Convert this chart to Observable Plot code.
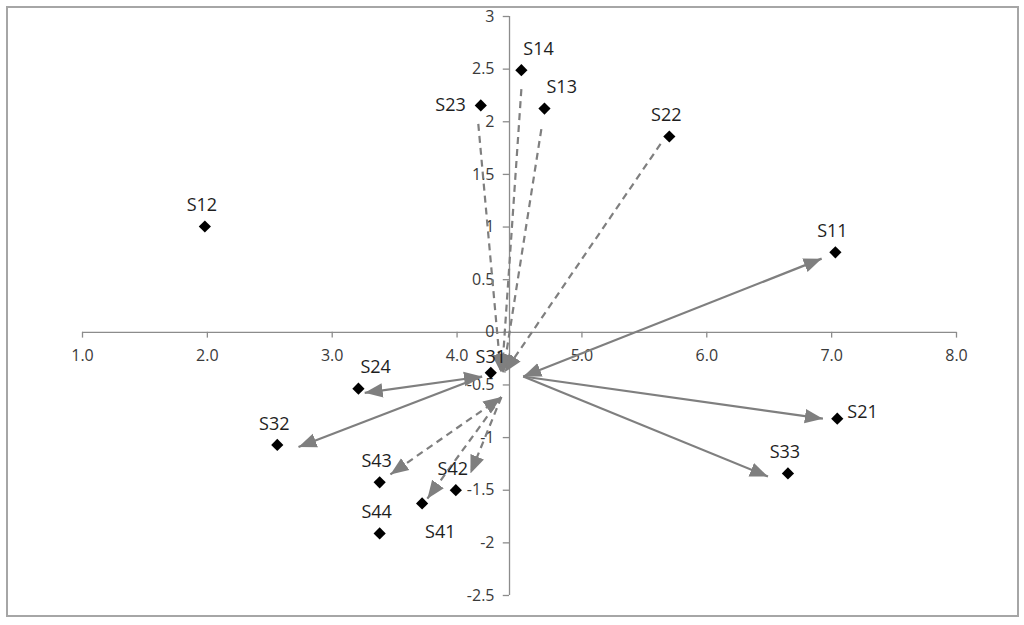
<!DOCTYPE html>
<html>
<head>
<meta charset="utf-8">
<script src="https://cdn.jsdelivr.net/npm/d3@7"></script>
<script src="https://cdn.jsdelivr.net/npm/@observablehq/plot@0.6"></script>
<style>
  html, body { margin: 0; padding: 0; background: #ffffff; }
  #wrap { position: relative; width: 1024px; height: 625px; overflow: hidden; }
  #wrap svg { position: absolute; left: 0; top: 0; }
  #frame { position: absolute; left: 6px; top: 6px; width: 1013px; height: 611px;
           box-sizing: border-box; border: 2px solid #a6a6a6; pointer-events: none; }
</style>
</head>
<body>
<div id="wrap"><div id="frame"></div></div>
<script>
// ---------- data ----------
const pointLabels = ["S11","S12","S13","S14","S21","S22","S23","S24","S31","S32","S33","S41","S42","S43","S44"];
const pointX = [7.03, 1.98, 4.70, 4.515, 7.045, 5.70, 4.19, 3.21, 4.27, 2.56, 6.65, 3.72, 3.99, 3.38, 3.38];
const pointY = [0.76, 1.005, 2.125, 2.49, -0.82, 1.86, 2.155, -0.535, -0.385, -1.07, -1.34, -1.625, -1.50, -1.425, -1.91];
const labelSide = ["above","above","aboveRight","aboveRight","right","above","left","aboveRight","aboveNear","above","above","belowRight","above","above","above"];

// arrows (data coordinates): start -> end
const arrowX1 = [4.53, 4.53, 4.53, 4.20, 4.20, 4.17, 4.515, 4.675, 5.63, 4.355, 4.355, 4.355];
const arrowY1 = [-0.42, -0.42, -0.42, -0.42, -0.42, 1.98, 2.31, 1.93, 1.79, -0.615, -0.615, -0.615];
const arrowX2 = [6.92, 6.93, 6.49, 3.26, 2.73, 4.35, 4.36, 4.37, 4.38, 3.466, 3.762, 4.107];
const arrowY2 = [0.70, -0.82, -1.37, -0.575, -1.09, -0.38, -0.38, -0.38, -0.38, -1.35, -1.58, -1.34];
const arrowStyle = ["solid","solid","solid","solid","solid","dashed","dashed","dashed","dashed","dashed","dashed","dashed"];
const arrowHeads = ["both","end","end","both","end","end","end","end","end","both","end","end"];

const xTicks = [1, 2, 3, 4, 5, 6, 7, 8];
const xTickLabels = ["1.0","2.0","3.0","4.0","5.0","6.0","7.0","8.0"];
const yTicks = [3, 2.5, 2, 1.5, 1, 0.5, 0, -0.5, -1, -1.5, -2, -2.5];
const yTickLabels = ["3","2.5","2","1.5","1","0.5","0","-0.5","-1","-1.5","-2","-2.5"];
const axisCrossX = 4.42;   // where the vertical axis crosses the horizontal axis

// ---------- build ----------
const points = pointLabels.map((s, i) => ({label: s, x: pointX[i], y: pointY[i], side: labelSide[i]}));
const arrows = arrowX1.map((_, i) => ({x1: arrowX1[i], y1: arrowY1[i], x2: arrowX2[i], y2: arrowY2[i], style: arrowStyle[i], heads: arrowHeads[i]}));
const xt = xTicks.map((v, i) => ({v, t: xTickLabels[i]}));
const yt = yTicks.map((v, i) => ({v, t: yTickLabels[i]}));

const gray = "#7f7f7f";
const axisGray = "#8c8c8c";
const tickFont = "'Open Sans', sans-serif";
const labelColor = "#1e1e1e";

const linkMark = (style, heads) => Plot.link(arrows.filter(d => d.style === style && d.heads === heads), {
  x1: "x1", y1: "y1", x2: "x2", y2: "y2",
  stroke: gray, strokeWidth: 2.2,
  strokeDasharray: style === "dashed" ? "7,5" : null,
  markerEnd: "arrow",
  markerStart: heads === "both" ? "arrow-reverse" : null
});

const labelGroups = {
  above:      {dx: -3, dy: -21, textAnchor: "middle"},
  aboveNear:  {dx: 0,  dy: -16, textAnchor: "middle"},
  aboveRight: {dx: 2,  dy: -21, textAnchor: "start"},
  left:       {dx: -15, dy: 0,  textAnchor: "end"},
  right:      {dx: 10, dy: -6,  textAnchor: "start"},
  belowRight: {dx: 3,  dy: 29,  textAnchor: "start"}
};

const labelMarks = Object.entries(labelGroups).map(([k, o]) =>
  Plot.text(points.filter(d => d.side === k), {
    x: "x", y: "y", text: "label", dx: o.dx, dy: o.dy, textAnchor: o.textAnchor,
    fill: labelColor, fontSize: 18, fontFamily: tickFont
  })
);

const svg = Plot.plot({
  width: 1024,
  height: 625,
  marginLeft: 82,
  marginRight: 68,
  marginTop: 16,
  marginBottom: 30,
  style: {background: "transparent", fontFamily: tickFont},
  x: {domain: [1, 8], axis: null},
  y: {domain: [-2.5, 3], axis: null},
  marks: [
    // horizontal axis
    Plot.ruleY([0], {stroke: axisGray, strokeWidth: 1.3}),
    Plot.ruleX(xt, {x: "v", y1: 0, y2: -0.055, stroke: axisGray, strokeWidth: 1.3}),
    Plot.text(xt, {x: "v", y: 0, text: "t", dy: 24, fill: "#3a3a3a", fontSize: 16, fontFamily: tickFont}),
    // vertical axis
    Plot.ruleX([axisCrossX], {stroke: axisGray, strokeWidth: 1.3}),
    Plot.ruleY(yt, {y: "v", x1: axisCrossX - 0.05, x2: axisCrossX, stroke: axisGray, strokeWidth: 1.3}),
    Plot.text(yt, {x: axisCrossX, y: "v", text: "t", dx: -15, textAnchor: "end", fill: "#3a3a3a", fontSize: 16, fontFamily: tickFont}),
    // arrows
    linkMark("solid", "end"),
    linkMark("solid", "both"),
    linkMark("dashed", "end"),
    linkMark("dashed", "both"),
    // points
    Plot.dot(points, {x: "x", y: "y", symbol: "diamond2", r: 5.5, fill: "#000000", stroke: "none"}),
    ...labelMarks
  ]
});

// filled triangular arrowheads like the original
svg.querySelectorAll("marker").forEach(m => {
  const color = m.getAttribute("stroke") || gray;
  m.setAttribute("viewBox", "-5 -5 10 10");
  m.setAttribute("markerWidth", 8.2);
  m.setAttribute("markerHeight", 8.2);
  m.setAttribute("refX", 5);
  m.setAttribute("refY", 0);
  m.setAttribute("fill", color);
  m.setAttribute("stroke", "none");
  m.setAttribute("stroke-dasharray", "none");
  const p = m.querySelector("path");
  if (p) {
    p.setAttribute("d", "M-5,-4L5,0L-5,4Z");
    p.setAttribute("fill", color);
    p.setAttribute("stroke", "none");
  }
});

document.getElementById("wrap").insertBefore(svg, document.getElementById("frame"));
</script>
</body>
</html>
